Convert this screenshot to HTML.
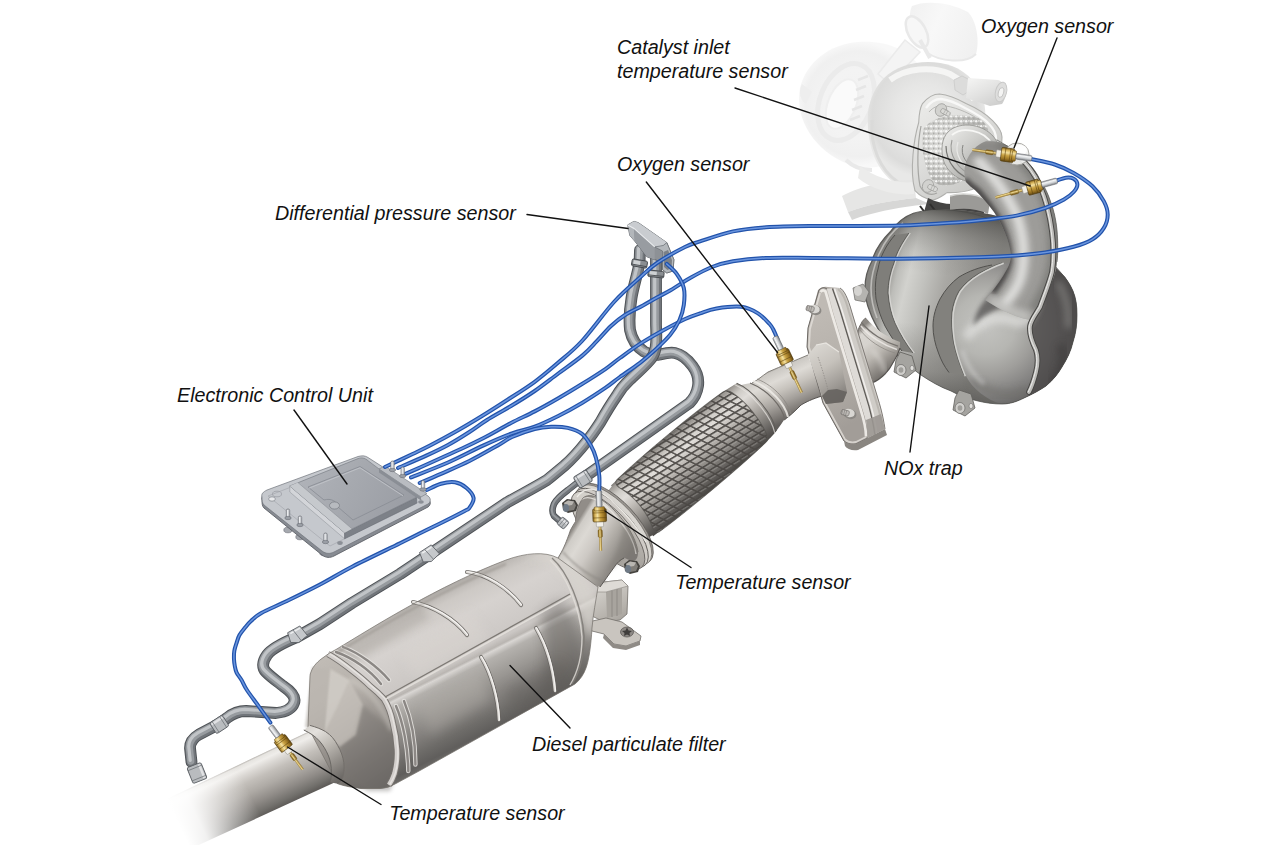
<!DOCTYPE html>
<html><head><meta charset="utf-8"><title>Exhaust aftertreatment system</title>
<style>
html,body{margin:0;padding:0;background:#fff;}
body{width:1280px;height:845px;overflow:hidden;font-family:"Liberation Sans",sans-serif;}
svg{display:block}
.lbl{font-family:"Liberation Sans",sans-serif;font-style:italic;font-size:19.7px;fill:#111;}
.ld{stroke:#111;stroke-width:1.4;fill:none;stroke-linecap:round}
.wo{fill:none;stroke:#2253ab;stroke-width:4;stroke-linecap:round;stroke-linejoin:round}
.wi{fill:none;stroke:#6a95de;stroke-width:1.5;stroke-linecap:round;stroke-linejoin:round}
.po{fill:none;stroke:#5b5f64;stroke-linecap:round;stroke-linejoin:round}
.pm{fill:none;stroke:#a4a8ac;stroke-linecap:round;stroke-linejoin:round}
.ph{fill:none;stroke:#d9dbdd;stroke-linecap:round;stroke-linejoin:round}
</style></head><body>
<svg width="1280" height="845" viewBox="0 0 1280 845">
<defs>
<filter id="b1" x="-20%" y="-20%" width="140%" height="140%"><feGaussianBlur stdDeviation="1"/></filter>
<filter id="b2" x="-20%" y="-20%" width="140%" height="140%"><feGaussianBlur stdDeviation="2"/></filter>
<filter id="b3" x="-30%" y="-30%" width="160%" height="160%"><feGaussianBlur stdDeviation="3.5"/></filter>
<filter id="b6" x="-30%" y="-30%" width="160%" height="160%"><feGaussianBlur stdDeviation="6"/></filter>
<filter id="b10" x="-40%" y="-40%" width="180%" height="180%"><feGaussianBlur stdDeviation="10"/></filter>
<radialGradient id="gT1" gradientUnits="userSpaceOnUse" cx="858" cy="104" r="62" ><stop offset="0" stop-color="#f1f1f1"/><stop offset="0.55" stop-color="#f3f3f3"/><stop offset="0.85" stop-color="#f0f0f0"/><stop offset="1" stop-color="#f8f8f8"/></radialGradient>
<linearGradient id="gT2" gradientUnits="userSpaceOnUse" x1="905" y1="20" x2="975" y2="50"><stop offset="0" stop-color="#f1f1f1"/><stop offset="0.4" stop-color="#f8f8f8"/><stop offset="1" stop-color="#f0f0f0"/></linearGradient>
<radialGradient id="gT3" gradientUnits="userSpaceOnUse" cx="925" cy="115" r="62" ><stop offset="0" stop-color="#efefee"/><stop offset="0.5" stop-color="#e6e6e5"/><stop offset="0.85" stop-color="#dcdcdb"/><stop offset="1" stop-color="#e8e8e7"/></radialGradient>
<linearGradient id="gT4" gradientUnits="userSpaceOnUse" x1="975" y1="78" x2="990" y2="108"><stop offset="0" stop-color="#f2f2f1"/><stop offset="0.5" stop-color="#e2e2e1"/><stop offset="1" stop-color="#cfcfce"/></linearGradient>
<linearGradient id="gTF" gradientUnits="userSpaceOnUse" x1="915" y1="100" x2="1000" y2="200"><stop offset="0" stop-color="#ececea"/><stop offset="0.4" stop-color="#dededc"/><stop offset="0.8" stop-color="#cacac7"/><stop offset="1" stop-color="#b6b6b3"/></linearGradient>
<radialGradient id="gBel" gradientUnits="userSpaceOnUse" cx="945" cy="145" r="36" ><stop offset="0" stop-color="#e2e2e0"/><stop offset="0.6" stop-color="#cfcfcc"/><stop offset="1" stop-color="#b4b4b1"/></radialGradient>
<pattern id="speck" width="5" height="5" patternUnits="userSpaceOnUse"><circle cx="1.2" cy="1.2" r="1.2" fill="#fbfbfa"/><circle cx="3.7" cy="3.5" r="0.9" fill="#a8a8a5"/><circle cx="3.9" cy="0.9" r="0.8" fill="#f0f0ee"/><circle cx="1" cy="3.8" r="0.6" fill="#bcbcb9"/></pattern>
<linearGradient id="gVb" gradientUnits="userSpaceOnUse" x1="945" y1="125" x2="995" y2="180"><stop offset="0" stop-color="#f0f0ee"/><stop offset="0.45" stop-color="#cbcbc8"/><stop offset="1" stop-color="#939390"/></linearGradient>
<linearGradient id="gCan" gradientUnits="userSpaceOnUse" x1="880" y1="268" x2="990" y2="296"><stop offset="0" stop-color="#858480"/><stop offset="0.08" stop-color="#969591"/><stop offset="0.16" stop-color="#bdbdb9"/><stop offset="0.26" stop-color="#d2d2ce"/><stop offset="0.4" stop-color="#c2c2be"/><stop offset="0.58" stop-color="#aaa9a5"/><stop offset="0.8" stop-color="#989793"/><stop offset="1" stop-color="#8a8985"/></linearGradient>
<linearGradient id="gCanV" gradientUnits="userSpaceOnUse" x1="950" y1="205" x2="925" y2="400"><stop offset="0" stop-color="#33322f" stop-opacity="0.85"/><stop offset="0.07" stop-color="#4a4946" stop-opacity="0.6"/><stop offset="0.16" stop-color="#5f5e5b" stop-opacity="0.35"/><stop offset="0.26" stop-color="#6b6a67" stop-opacity="0.12"/><stop offset="0.36" stop-color="#6b6a67" stop-opacity="0"/><stop offset="0.62" stop-color="#5c5b58" stop-opacity="0.0"/><stop offset="0.85" stop-color="#5c5b58" stop-opacity="0.3"/><stop offset="1" stop-color="#3f3e3c" stop-opacity="0.6"/></linearGradient>
<radialGradient id="gDome" gradientUnits="userSpaceOnUse" cx="985" cy="325" r="100" ><stop offset="0" stop-color="#c4c4c1"/><stop offset="0.3" stop-color="#b6b6b2"/><stop offset="0.5" stop-color="#9f9e9b"/><stop offset="0.7" stop-color="#828180"/><stop offset="0.88" stop-color="#5f5e5d"/><stop offset="1" stop-color="#484746"/></radialGradient>
<linearGradient id="gElbow" gradientUnits="userSpaceOnUse" x1="858" y1="330" x2="892" y2="374"><stop offset="0" stop-color="#8c8883"/><stop offset="0.1" stop-color="#d9d6d1"/><stop offset="0.3" stop-color="#d6d3ce"/><stop offset="0.55" stop-color="#bab6b0"/><stop offset="0.78" stop-color="#8e8a85"/><stop offset="1" stop-color="#686561"/></linearGradient>
<linearGradient id="gNarrow" gradientUnits="userSpaceOnUse" x1="776" y1="366" x2="799" y2="416"><stop offset="0" stop-color="#8f8b86"/><stop offset="0.07" stop-color="#cbc8c3"/><stop offset="0.25" stop-color="#dedbd6"/><stop offset="0.45" stop-color="#c6c2bc"/><stop offset="0.65" stop-color="#a5a19c"/><stop offset="0.85" stop-color="#7f7b77"/><stop offset="1" stop-color="#625f5c"/></linearGradient>
<linearGradient id="gFlex" gradientUnits="userSpaceOnUse" x1="0" y1="-34" x2="0" y2="34"><stop offset="0" stop-color="#6f6c68"/><stop offset="0.05" stop-color="#9f9b96"/><stop offset="0.16" stop-color="#cfccc7"/><stop offset="0.28" stop-color="#e0ddd9"/><stop offset="0.42" stop-color="#c4c0bb"/><stop offset="0.58" stop-color="#a19d98"/><stop offset="0.75" stop-color="#7c7975"/><stop offset="0.9" stop-color="#5c5956"/><stop offset="1" stop-color="#494744"/></linearGradient>
<pattern id="mesh" width="9.4" height="6" patternUnits="userSpaceOnUse" patternTransform="rotate(8.3) skewX(32)"><path d="M0,0.9 H9.4 M0.9,0 V6" stroke="#4b4845" stroke-width="1.8" fill="none" opacity="0.92"/><path d="M2.2,2.2 H9.4" stroke="#f4f2ef" stroke-width="0.7" fill="none" opacity="0.45"/></pattern>
<linearGradient id="gFlFace" gradientUnits="userSpaceOnUse" x1="806" y1="320" x2="860" y2="420"><stop offset="0" stop-color="#bfbab4"/><stop offset="0.5" stop-color="#b5b0aa"/><stop offset="1" stop-color="#a29d98"/></linearGradient>
<linearGradient id="gFlEdge" gradientUnits="userSpaceOnUse" x1="838" y1="330" x2="872" y2="318"><stop offset="0" stop-color="#ebe8e4"/><stop offset="0.3" stop-color="#d6d3ce"/><stop offset="0.42" stop-color="#c9c5c0"/><stop offset="0.5" stop-color="#64615d"/><stop offset="0.58" stop-color="#dedbd6"/><stop offset="0.8" stop-color="#cbc7c2"/><stop offset="1" stop-color="#a9a5a0"/></linearGradient>
<linearGradient id="gBoss" gradientUnits="userSpaceOnUse" x1="810" y1="345" x2="845" y2="400"><stop offset="0" stop-color="#dcd9d4"/><stop offset="0.4" stop-color="#c6c2bc"/><stop offset="0.75" stop-color="#9c9893"/><stop offset="1" stop-color="#7a7672"/></linearGradient>
<linearGradient id="gBrk" gradientUnits="userSpaceOnUse" x1="598" y1="585" x2="630" y2="640"><stop offset="0" stop-color="#d6d3ce"/><stop offset="0.5" stop-color="#b5b1ab"/><stop offset="1" stop-color="#8c8883"/></linearGradient>
<linearGradient id="gPlate" gradientUnits="userSpaceOnUse" x1="575" y1="495" x2="650" y2="565"><stop offset="0" stop-color="#dad7d2"/><stop offset="0.45" stop-color="#c2beb8"/><stop offset="1" stop-color="#9a9691"/></linearGradient>
<linearGradient id="gNeck" gradientUnits="userSpaceOnUse" x1="566" y1="540" x2="618" y2="572"><stop offset="0" stop-color="#918d88"/><stop offset="0.07" stop-color="#cfccc7"/><stop offset="0.22" stop-color="#dcd9d4"/><stop offset="0.42" stop-color="#cdc9c4"/><stop offset="0.62" stop-color="#b1ada7"/><stop offset="0.82" stop-color="#95918c"/><stop offset="1" stop-color="#7c7874"/></linearGradient>
<linearGradient id="gTail" gradientUnits="userSpaceOnUse" x1="236" y1="766" x2="261" y2="818.5"><stop offset="0" stop-color="#b5b1ac"/><stop offset="0.03" stop-color="#e6e4e0"/><stop offset="0.1" stop-color="#efedea"/><stop offset="0.2" stop-color="#dbd8d4"/><stop offset="0.34" stop-color="#c3bfba"/><stop offset="0.52" stop-color="#aeaaa5"/><stop offset="0.72" stop-color="#8f8b87"/><stop offset="0.88" stop-color="#72706c"/><stop offset="0.97" stop-color="#5f5c59"/><stop offset="1" stop-color="#6a6764"/></linearGradient>
<linearGradient id="gTailFade" gradientUnits="userSpaceOnUse" x1="168" y1="802" x2="238" y2="768"><stop offset="0" stop-color="#ffffff" stop-opacity="1"/><stop offset="0.25" stop-color="#ffffff" stop-opacity="0.9"/><stop offset="0.65" stop-color="#ffffff" stop-opacity="0.4"/><stop offset="1" stop-color="#ffffff" stop-opacity="0"/></linearGradient>
<linearGradient id="gDpf" gradientUnits="userSpaceOnUse" x1="420" y1="598" x2="491" y2="738"><stop offset="0" stop-color="#a39f9b"/><stop offset="0.03" stop-color="#bab6b2"/><stop offset="0.1" stop-color="#cdc9c5"/><stop offset="0.22" stop-color="#d6d2cf"/><stop offset="0.36" stop-color="#d0ccc9"/><stop offset="0.46" stop-color="#cbc7c4"/><stop offset="0.495" stop-color="#b9b5b1"/><stop offset="0.51" stop-color="#d9d6d3"/><stop offset="0.55" stop-color="#b4b1ad"/><stop offset="0.66" stop-color="#9d9a96"/><stop offset="0.78" stop-color="#84817e"/><stop offset="0.88" stop-color="#6d6b68"/><stop offset="0.95" stop-color="#605e5c"/><stop offset="1" stop-color="#72706d"/></linearGradient>
<linearGradient id="gCone" gradientUnits="userSpaceOnUse" x1="312" y1="668" x2="392" y2="786"><stop offset="0" stop-color="#c0bbb5"/><stop offset="0.25" stop-color="#b8b3ad"/><stop offset="0.5" stop-color="#9d9893"/><stop offset="0.75" stop-color="#7a7672"/><stop offset="1" stop-color="#605d5a"/></linearGradient>
<linearGradient id="gRing" gradientUnits="userSpaceOnUse" x1="304" y1="728" x2="342" y2="782"><stop offset="0" stop-color="#d6d3ce"/><stop offset="0.15" stop-color="#e4e1dd"/><stop offset="0.4" stop-color="#c0bcb6"/><stop offset="0.7" stop-color="#918d88"/><stop offset="1" stop-color="#64615e"/></linearGradient>
<linearGradient id="gEcuTop" gradientUnits="userSpaceOnUse" x1="300" y1="470" x2="400" y2="525"><stop offset="0" stop-color="#b0b3b9"/><stop offset="0.5" stop-color="#a5a8ae"/><stop offset="1" stop-color="#9a9da4"/></linearGradient>
<path id="wB" d="M1056.6,180.6 C1058.2,180.1 1063.2,178.0 1066.0,177.7 C1068.8,177.4 1071.7,177.6 1073.6,178.7 C1075.5,179.8 1077.4,182.2 1077.4,184.4 C1077.4,186.6 1075.8,189.5 1073.6,192.0 C1071.4,194.5 1068.7,196.8 1064.0,199.5 C1059.3,202.2 1053.1,205.3 1045.2,208.0 C1037.3,210.7 1026.3,213.7 1016.8,215.6 C1007.3,217.5 997.9,218.3 988.4,219.4 C978.9,220.5 974.7,221.2 960.0,222.2 C945.3,223.2 924.0,225.0 900.0,225.6 C876.0,226.2 838.3,225.7 816.0,226.0 C793.7,226.3 779.8,226.4 766.0,227.3 C752.2,228.2 744.0,229.1 733.0,231.4 C722.0,233.8 708.0,238.8 700.0,241.4 C692.0,244.0 692.2,243.4 685.0,247.0 C677.8,250.6 664.5,257.9 657.0,263.0 C649.5,268.1 647.2,271.0 640.0,277.5 C632.8,284.0 623.7,291.4 614.0,302.0 C604.3,312.6 591.3,330.9 582.0,341.0 C572.7,351.1 565.9,356.0 558.0,362.8 C550.1,369.6 543.0,375.7 534.7,381.8 C526.4,387.9 516.8,393.8 508.0,399.5 C499.2,405.2 490.8,410.6 482.0,416.0 C473.2,421.4 463.7,427.1 455.0,432.0 C446.3,436.9 437.1,441.8 430.0,445.5 C422.9,449.2 420.1,450.4 412.6,454.0 C405.1,457.6 389.6,464.8 385.0,467.0"/>
<path id="wA" d="M1030.0,158.8 C1034.1,159.8 1047.4,162.1 1054.7,164.5 C1062.0,166.9 1067.3,169.4 1073.6,173.0 C1079.9,176.6 1087.5,181.6 1092.5,186.3 C1097.5,191.0 1101.4,196.7 1103.9,201.4 C1106.4,206.1 1107.7,210.3 1107.7,214.7 C1107.7,219.1 1106.4,223.8 1103.9,227.9 C1101.4,232.0 1097.5,236.2 1092.5,239.3 C1087.5,242.5 1081.5,244.6 1073.6,246.8 C1065.7,249.0 1054.7,251.1 1045.2,252.5 C1035.7,253.9 1027.8,254.6 1016.8,255.4 C1005.8,256.2 998.4,256.7 978.9,257.3 C959.4,257.9 927.1,258.7 900.0,258.8 C872.9,258.9 838.3,258.1 816.0,258.0 C793.7,257.9 779.8,257.4 766.0,258.0 C752.2,258.6 742.0,259.8 733.0,261.3 C724.0,262.8 719.0,264.3 712.0,267.0 C705.0,269.7 697.8,273.7 691.0,277.5 C684.2,281.3 676.7,286.7 671.0,290.0 C665.3,293.3 661.7,294.9 657.0,297.5 C652.3,300.1 648.3,302.6 643.0,305.5 C637.7,308.4 630.3,311.6 625.0,315.0 C619.7,318.4 615.7,321.6 611.0,326.0 C606.3,330.4 601.5,336.3 596.8,341.2 C592.1,346.1 589.0,350.0 582.6,355.4 C576.2,360.8 566.3,367.6 558.3,373.5 C550.3,379.4 542.6,385.6 534.7,391.0 C526.8,396.4 519.0,401.2 511.0,406.0 C503.1,410.8 493.9,415.7 487.0,420.0 C480.1,424.3 475.9,427.8 469.4,432.0 C462.9,436.2 455.1,441.1 448.0,445.0 C440.9,448.9 435.1,451.6 426.8,455.4 C418.5,459.2 402.8,465.9 398.0,468.0"/>
<path id="wC" d="M777.5,339.0 C776.9,337.7 775.3,333.5 774.0,331.0 C772.7,328.5 772.3,326.9 769.6,324.0 C766.9,321.1 762.7,316.3 758.0,313.4 C753.3,310.5 748.3,307.6 741.4,306.8 C734.5,306.0 723.5,307.4 716.6,308.5 C709.7,309.6 705.2,311.6 700.0,313.4 C694.8,315.1 691.5,316.1 685.2,319.0 C678.9,321.9 669.5,326.9 662.0,331.0 C654.5,335.1 647.0,339.4 640.0,343.9 C633.0,348.4 625.6,353.9 619.9,358.0 C614.2,362.1 612.0,364.5 605.7,368.8 C599.4,373.1 589.9,379.1 582.0,384.0 C574.1,388.9 566.2,393.7 558.3,398.3 C550.4,402.9 542.6,407.3 534.7,411.4 C526.8,415.5 519.5,418.6 511.0,423.0 C502.5,427.4 491.8,433.8 483.6,438.0 C475.4,442.2 469.1,445.2 462.0,448.5 C454.9,451.8 448.0,454.8 441.0,458.0 C434.0,461.2 425.9,464.9 420.0,467.5 C414.1,470.1 407.9,472.8 405.5,473.8"/>
<path id="wD" d="M666.8,263.9 C668.4,265.6 673.9,269.9 676.7,273.9 C679.5,277.9 682.6,282.8 683.8,288.0 C685.0,293.2 684.5,299.7 683.8,305.0 C683.1,310.3 681.8,315.0 679.5,320.0 C677.2,325.0 674.1,330.0 670.0,335.0 C665.9,340.0 660.0,345.4 655.0,350.0 C650.0,354.6 645.9,358.3 640.0,362.8 C634.1,367.3 625.6,372.9 619.9,377.0 C614.2,381.1 612.0,383.4 605.7,387.7 C599.4,392.0 589.9,398.3 582.0,403.0 C574.1,407.7 566.2,412.1 558.3,416.0 C550.4,419.9 542.4,423.8 534.7,426.7 C527.0,429.6 520.5,430.3 512.0,433.4 C503.5,436.5 494.3,440.5 483.6,445.4 C472.9,450.2 460.1,457.2 448.0,462.5 C435.9,467.8 417.2,474.9 411.0,477.4"/>
<path id="wE" d="M599.2,492.0 C599.2,489.3 599.8,481.7 599.3,476.0 C598.8,470.3 597.4,463.1 596.0,458.0 C594.6,452.9 593.3,449.7 591.0,445.7 C588.7,441.7 585.9,436.8 582.0,433.8 C578.1,430.8 572.9,429.1 567.8,427.9 C562.7,426.7 556.7,426.5 551.2,426.7 C545.7,426.9 541.2,427.3 534.7,429.0 C528.2,430.7 518.1,434.3 512.0,437.0 C505.9,439.7 504.9,441.4 497.8,445.4 C490.7,449.4 478.9,456.3 469.4,461.0 C459.9,465.7 449.3,470.1 441.0,473.8 C432.7,477.5 423.2,481.5 419.7,483.0"/>
<path id="wF" d="M426.8,490.0 C429.2,489.0 436.3,485.1 441.0,483.8 C445.7,482.5 450.8,481.6 455.0,482.3 C459.2,483.0 463.4,485.4 466.5,488.0 C469.6,490.6 473.1,494.7 473.6,498.0 C474.1,501.3 470.9,505.7 469.4,507.9 C467.9,510.1 469.3,508.5 464.6,511.0 C459.9,513.5 448.1,519.5 441.0,523.0 C433.9,526.5 428.8,528.9 422.0,532.3 C415.2,535.7 411.6,537.6 400.0,543.3 C388.4,549.0 366.0,559.6 352.6,566.5 C339.2,573.4 330.6,579.0 319.5,584.8 C308.4,590.6 296.0,596.6 286.3,601.3 C276.6,606.0 267.3,609.7 261.4,613.0 C255.5,616.3 253.8,618.5 251.0,621.0 C248.2,623.5 246.8,625.5 244.9,627.8 C243.0,630.1 240.9,632.5 239.5,635.0 C238.1,637.5 237.5,640.1 236.6,642.8 C235.7,645.5 234.7,648.2 234.3,651.0 C233.9,653.8 233.9,656.8 234.0,659.3 C234.1,661.8 234.4,663.8 234.8,666.0 C235.2,668.2 235.5,670.3 236.6,672.6 C237.7,674.9 239.8,677.1 241.5,680.0 C243.2,682.9 244.0,685.6 246.9,690.0 C249.8,694.4 254.8,700.9 258.7,706.3 C262.6,711.7 268.4,719.9 270.4,722.6"/>
<linearGradient id="gBrass" gradientUnits="userSpaceOnUse" x1="0" y1="-7" x2="0" y2="7"><stop offset="0" stop-color="#7a5a1a"/><stop offset="0.18" stop-color="#d9b65c"/><stop offset="0.35" stop-color="#f3e0a0"/><stop offset="0.55" stop-color="#c9a243"/><stop offset="0.8" stop-color="#9a7424"/><stop offset="1" stop-color="#5e4410"/></linearGradient>
<linearGradient id="gSleeve" gradientUnits="userSpaceOnUse" x1="0" y1="-3" x2="0" y2="3"><stop offset="0" stop-color="#8a8d91"/><stop offset="0.3" stop-color="#f4f5f6"/><stop offset="0.6" stop-color="#d0d3d6"/><stop offset="1" stop-color="#74777b"/></linearGradient>
<linearGradient id="gProbe" gradientUnits="userSpaceOnUse" x1="0" y1="-1.6" x2="0" y2="1.6"><stop offset="0" stop-color="#8a6a20"/><stop offset="0.4" stop-color="#ecd58c"/><stop offset="1" stop-color="#7a5a18"/></linearGradient>
</defs>
<rect width="1280" height="845" fill="#ffffff"/>
<g id="turbo">
<path d="M800,88 C806,62 830,44 858,42 C886,40 910,50 922,70 C932,90 930,126 916,146 C900,166 872,172 848,164 C816,152 794,120 800,88 Z" fill="url(#gT1)"/>
<ellipse cx="846" cy="102" rx="26" ry="40" transform="rotate(22 846 102)" fill="none" stroke="#ebebeb" stroke-width="5"/>
<ellipse cx="842" cy="104" rx="14" ry="26" transform="rotate(22 842 104)" fill="#fafafa" stroke="#efefef" stroke-width="2"/>
<path d="M802,84 C798,92 800,100 806,104 L812,92 Z" fill="#eeeeee"/>
<path d="M846,160 C852,166 862,170 872,170" fill="none" stroke="#e9e9e9" stroke-width="4"/>
<path d="M858,80 l10,-4" stroke="#e6e6e6" stroke-width="2.5"/>
<path d="M856,90 l10,-4" stroke="#e6e6e6" stroke-width="2.5"/>
<path d="M854,100 l10,-4" stroke="#e6e6e6" stroke-width="2.5"/>
<path d="M852,110 l10,-4" stroke="#e6e6e6" stroke-width="2.5"/>
<path d="M850,120 l10,-4" stroke="#e6e6e6" stroke-width="2.5"/>
<path d="M912,6 C925,0 950,2 968,12 C976,20 980,40 976,54 C966,64 940,62 926,52 C914,42 906,18 912,6 Z" fill="url(#gT2)"/>
<ellipse cx="917" cy="32" rx="9" ry="17" transform="rotate(-28 917 32)" fill="#f7f7f7" stroke="#e9e9e9" stroke-width="2.5"/>
<path d="M926,52 C940,62 966,64 976,54" fill="none" stroke="#e8e8e8" stroke-width="2"/>
<path d="M905,40 L920,52 L890,84 L878,74 Z" fill="#f4f4f4" stroke="#ebebeb" stroke-width="1.5"/>
<path d="M920,40 L930,58" stroke="#e9e9e9" stroke-width="4"/>
<path d="M884,78 C900,62 930,58 952,66 C968,72 980,86 984,102 C988,122 984,150 970,170 C954,190 920,196 896,184 C874,170 866,140 868,112 C870,98 876,86 884,78 Z" fill="url(#gT3)"/>
<path d="M890,80 C906,68 932,66 950,74 C962,80 970,90 974,100" fill="none" stroke="#f7f7f6" stroke-width="6" opacity="0.9"/>
<path d="M872,120 C870,146 880,170 898,182" fill="none" stroke="#d9d9d8" stroke-width="3" opacity="0.9"/>
<path d="M954,80 L962,76 L970,80 L971,90 L963,95 L955,90 Z" fill="#dcdcdb" stroke="#cfcfce" stroke-width="1"/>
<path d="M968,78 L998,80 C1006,82 1008,96 1002,104 L990,106 L966,98 Z" fill="url(#gT4)"/>
<ellipse cx="1001" cy="92" rx="5.5" ry="10" transform="rotate(14 1001 92)" fill="#dededd" stroke="#c9c9c8" stroke-width="1"/>
<ellipse cx="1001" cy="92.5" rx="2.6" ry="5" transform="rotate(14 1001 92.5)" fill="#f4f4f3" stroke="#bdbdbc" stroke-width="0.8"/>
<path d="M842,196 C860,186 890,180 914,180 L916,198 C896,200 868,204 848,212 Z" fill="#e6e6e5"/>
<path d="M860,166 C876,178 896,184 914,182 L914,194 C896,196 872,190 858,178 Z" fill="#ececeb"/>
<path d="M848,212 C868,204 896,200 916,198 L930,204 C906,206 872,212 852,220 Z" fill="#d7d7d6"/>
<path d="M922.5,103.6 C928,97 934,94 939.5,94 C950,95 958,99 966,103.6 C976,108 986,114 992.6,120.6 C998,126 1002,131 1002,137 C1002,150 996,166 986,180 C980,188 968,193 947,192.6 C942,196 937,200 932,200 C925,199 919,195 915,190.7 C912,180 912,166 913,154.7 C914,142 916,132 918.7,122.5 C919,115 920,108 922.5,103.6 Z" fill="url(#gTF)" stroke="#b0b0ad" stroke-width="1.1"/>
<path d="M926,108 C931,101 936,99 941,99 C951,100 958,104 965,108 C975,113 984,118 989,124 C994,129 996,134 996,139" fill="none" stroke="#f8f8f7" stroke-width="2.4"/>
<path d="M921,126 C917,146 917,170 920,186 C924,194 931,196 937,193" fill="none" stroke="#a5a5a2" stroke-width="1.2"/>
<path d="M929,112 C934,106 940,105 946,106 C958,108 972,114 982,122" fill="none" stroke="#b9b9b6" stroke-width="1"/>
<path d="M924,128 C934,116 956,112 978,118 C986,122 990,130 988,138 L966,178 C956,186 942,188 934,182 C924,170 920,144 924,128 Z" fill="url(#gBel)"/>
<path d="M924,128 C934,116 956,112 978,118 C986,122 990,130 988,138 L966,178 C956,186 942,188 934,182 C924,170 920,144 924,128 Z" fill="url(#speck)" opacity="0.9"/>
<path d="M948,132 C960,120 986,124 996,140 C1001,152 996,170 984,180 C970,186 950,178 944,162 C940,150 942,138 948,132 Z" fill="url(#gVb)" stroke="#8f8f8c" stroke-width="0.8"/>
<path d="M952,135 C962,126 984,130 992,144" fill="none" stroke="#f7f7f5" stroke-width="1.8"/>
<path d="M946,146 C946,162 958,178 976,180" fill="none" stroke="#767673" stroke-width="1.2"/>
<path d="M952,140 C948,154 958,172 976,176" fill="none" stroke="#9b9b98" stroke-width="1.1"/>
<path d="M958,142 C954,154 962,168 976,172" fill="none" stroke="#e9e9e7" stroke-width="1.2"/>
<path d="M963,145 C960,155 966,165 977,168" fill="none" stroke="#858582" stroke-width="1"/>
<g transform="translate(941,110) rotate(28)"><ellipse cx="0" cy="0" rx="5.5" ry="6.5" fill="#d2d2cf" stroke="#a2a29f" stroke-width="0.8"/><rect x="0" y="-2.4" width="10" height="4.8" rx="2" fill="#d9d9d6" stroke="#9a9a97" stroke-width="0.7"/><path d="M4,-2.4 v4.8 M6.5,-2.4 v4.8" stroke="#a5a5a2" stroke-width="0.6"/></g>
<g transform="translate(928,186) rotate(24)"><ellipse cx="0" cy="0" rx="5.5" ry="6.5" fill="#d2d2cf" stroke="#a2a29f" stroke-width="0.8"/><rect x="0" y="-2.4" width="10" height="4.8" rx="2" fill="#d9d9d6" stroke="#9a9a97" stroke-width="0.7"/><path d="M4,-2.4 v4.8 M6.5,-2.4 v4.8" stroke="#a5a5a2" stroke-width="0.6"/></g>
<path d="M928,198 C944,206 962,206 976,198 L984,206 L984,216 C964,222 942,222 924,212 Z" fill="#454443"/>
<path d="M950,196 C962,192 980,194 990,202 L988,214 C976,208 962,208 950,210 Z" fill="#9b9a97"/>
<path d="M950,196 C962,192 980,194 990,202" fill="none" stroke="#d4d4d1" stroke-width="1.5"/>
<path d="M920,206 L932,222 M930,204 L944,222" stroke="#2f2e2d" stroke-width="2"/>
</g>
<g id="nox">
<clipPath id="cpCan"><path d="M914,213 C903,217 896,224 891,231 C882,240 875,250 872,261 C867,270 865,279 865,288 C865,297 867,305 870,312 C873,321 878,329 883,337 C888,345 893,351 898,356 C905,363 913,369 921,375 C930,381 940,387 951,391 C960,396 969,399 978,401 C986,403 994,404 1002,404 C1011,404 1018,401 1024,398 C1033,394 1040,390 1046,386 C1053,380 1058,374 1062,367 C1067,359 1071,351 1073,342 C1076,333 1077,324 1077,315 C1077,306 1076,298 1073,291 C1070,284 1066,278 1062,274 L1054,266 L1040,232 C1010,214 950,204 914,213 Z"/></clipPath>
<path d="M914,213 C903,217 896,224 891,231 C882,240 875,250 872,261 C867,270 865,279 865,288 C865,297 867,305 870,312 C873,321 878,329 883,337 C888,345 893,351 898,356 C905,363 913,369 921,375 C930,381 940,387 951,391 C960,396 969,399 978,401 C986,403 994,404 1002,404 C1011,404 1018,401 1024,398 C1033,394 1040,390 1046,386 C1053,380 1058,374 1062,367 C1067,359 1071,351 1073,342 C1076,333 1077,324 1077,315 C1077,306 1076,298 1073,291 C1070,284 1066,278 1062,274 L1054,266 L1040,232 C1010,214 950,204 914,213 Z" fill="url(#gCan)"/>
<path d="M914,213 C903,217 896,224 891,231 C882,240 875,250 872,261 C867,270 865,279 865,288 C865,297 867,305 870,312 C873,321 878,329 883,337 C888,345 893,351 898,356 C905,363 913,369 921,375 C930,381 940,387 951,391 C960,396 969,399 978,401 C986,403 994,404 1002,404 C1011,404 1018,401 1024,398 C1033,394 1040,390 1046,386 C1053,380 1058,374 1062,367 C1067,359 1071,351 1073,342 C1076,333 1077,324 1077,315 C1077,306 1076,298 1073,291 C1070,284 1066,278 1062,274 L1054,266 L1040,232 C1010,214 950,204 914,213 Z" fill="url(#gCanV)"/>
<path d="M895,235 C886,245 880,257 878,269 C875,279 875,289 876,299 C878,309 881,318 885,326 C890,335 895,343 902,351 L913,353 C906,344 900,334 895,323 C891,314 889,304 888,293 C888,283 890,273 894,263 C896,253 902,243 909,233 Z" fill="#7f7e7a"/>
<path d="M895,235 C886,245 880,257 878,269 C875,279 875,289 876,299 C878,309 881,318 885,326 C890,335 895,343 902,351" fill="none" stroke="#51504d" stroke-width="1"/>
<path d="M909,233 C902,243 896,253 894,263 C890,273 888,283 888,293 C889,304 891,314 895,323 C900,334 906,344 913,353" fill="none" stroke="#51504d" stroke-width="0.8"/>
<path d="M909,233 C902,243 896,253 894,263 C890,273 888,283 888,293 C889,304 891,314 895,323 C900,334 906,344 913,353" fill="none" stroke="#dddcd9" stroke-width="1.2" opacity="0.8" transform="translate(1.3,0)"/>
<path d="M914,213 C903,217 896,224 891,231 C882,240 875,250 872,261 C867,270 865,279 865,288 C865,297 867,305 870,312 C873,321 878,329 883,337 C888,345 893,351 898,356" fill="none" stroke="#5c5b58" stroke-width="1.3"/>
<path d="M903,223 C892,231 884,243 879,254 C874,266 871,278 871,288 C871,298 873,308 877,318" fill="none" stroke="#cfcecb" stroke-width="1.6" opacity="0.75"/>
<path d="M1002,263 C993,266 985,270 978,274 C970,279 964,284 959,291 C955,298 953,305 952,312 C951,322 952,333 953.5,342 C956,354 960,365 964,375 L949,372.5 C944,366 941,360 938.5,353 C935,344 933,335 933,326 C933,316 936,307 940,299 C945,290 951,283 959,277 C969,271 980,267 992,265 Z" fill="#82817d"/>
<path d="M992,265 C980,267 969,271 959,277 C951,283 945,290 940,299 C936,307 933,316 933,326 C933,335 935,344 938.5,353 C941,360 944,366 949,372.5" fill="none" stroke="#51504d" stroke-width="1"/>
<path d="M1002,263 C993,266 985,270 978,274 C970,279 964,284 959,291 C955,298 953,305 952,312 C951,322 952,333 953.5,342 C956,354 960,365 964,375" fill="none" stroke="#51504d" stroke-width="0.8"/>
<path d="M1004,264 C995,267 987,271 980,275 C972,280 966,285 961,292 C957,299 955,306 954,313 C953,323 954,334 955.5,343 C958,355 962,366 966,376" fill="none" stroke="#d9d9d6" stroke-width="3" opacity="0.9"/>
<path d="M1004,264 C995,267 987,271 980,275 C972,280 966,285 961,292 C957,299 955,306 954,313 C953,323 954,334 955.5,343 C958,355 962,366 966,376 C972,388 986,400 1002,404 C1011,404 1018,401 1024,398 C1033,394 1040,390 1046,386 C1053,380 1058,374 1062,367 C1067,359 1071,351 1073,342 C1076,333 1077,324 1077,315 C1077,306 1076,298 1073,291 C1070,284 1066,278 1062,274 L1054,266 C1040,258 1020,258 1004,264 Z" fill="url(#gDome)"/>
<g clip-path="url(#cpCan)">
<path d="M1053,262 C1052,276 1046,292 1040,307 C1034,316 1030,322 1030,328 C1030,336 1034,344 1037,352 C1039,360 1038,370 1035,378 C1033,386 1031,392 1028,398 L1060,400 L1090,340 L1085,280 L1062,260 Z" fill="#4b4a48" opacity="0.8" filter="url(#b1)"/>
<path d="M1058,282 C1066,296 1070,312 1068,328" fill="none" stroke="#8d8c89" stroke-width="7" opacity="0.6" filter="url(#b3)"/>
<path d="M1060,345 C1066,355 1064,370 1052,384" fill="none" stroke="#3a3938" stroke-width="9" opacity="0.5" filter="url(#b3)"/>
<path d="M966,338 C976,322 994,314 1012,320 C1024,326 1030,318 1036,300" fill="none" stroke="#e6e6e4" stroke-width="10" opacity="0.65" filter="url(#b3)"/>
<path d="M1010,266 C1002,280 992,292 982,304 C977,311 974,318 973,326 C983,314 998,307 1014,306 C1012,294 1010,282 1010,266 Z" fill="#4b4a48" opacity="0.7" filter="url(#b2)"/>
<path d="M972,380 C988,394 1008,398 1026,390" fill="none" stroke="#6f6e6b" stroke-width="8" opacity="0.55" filter="url(#b3)"/>
<path d="M962,350 C966,364 974,376 984,384" fill="none" stroke="#dcdcda" stroke-width="4" opacity="0.5" filter="url(#b2)"/>
</g>
<clipPath id="cpElb"><path d="M966,182 C961,168 968,148 986,141 C994,140 1002,143 1008,146 C1014,150 1020,155 1025,160 C1032,166 1037,173 1040,180 C1045,187 1048,194 1050,200 C1054,210 1056,220 1057,230 C1058,242 1058,254 1057,262 C1056,272 1052,284 1046,294 C1040,304 1034,312 1030,320 C1018,318 1000,310 985,300 C992,292 998,284 1003,276 C1008,268 1011,262 1011,255 C1010,247 1008,240 1005,233 C1002,225 998,218 994,212 C988,204 981,196 975,190 C972,188 969,185 966,182 Z"/></clipPath>
<path d="M966,182 C961,168 968,148 986,141 C994,140 1002,143 1008,146 C1014,150 1020,155 1025,160 C1032,166 1037,173 1040,180 C1045,187 1048,194 1050,200 C1054,210 1056,220 1057,230 C1058,242 1058,254 1057,262 C1056,272 1052,284 1046,294 C1040,304 1034,312 1030,320 C1018,318 1000,310 985,300 C992,292 998,284 1003,276 C1008,268 1011,262 1011,255 C1010,247 1008,240 1005,233 C1002,225 998,218 994,212 C988,204 981,196 975,190 C972,188 969,185 966,182 Z" fill="#9d9c99"/>
<g clip-path="url(#cpElb)">
<path d="M1000,140 C1020,152 1036,170 1046,192 C1054,212 1058,238 1056,262 C1054,280 1046,296 1036,312" fill="none" stroke="#7c7b78" stroke-width="17" opacity="0.9" filter="url(#b3)"/>
<path d="M976,158 C994,176 1008,196 1017,216 C1023,234 1026,256 1021,276 C1018,288 1010,298 1002,306" fill="none" stroke="#e2e2e0" stroke-width="10.5" opacity="0.95" filter="url(#b3)"/>
<path d="M964,180 C968,185 973,188 978,192 C988,204 996,214 1001,226 C1006,238 1009,250 1008,262 C1006,272 1000,282 992,292" fill="none" stroke="#3f3e3c" stroke-width="8" opacity="0.85" filter="url(#b2)"/>
<path d="M975,150 C988,143 1006,147 1022,160" fill="none" stroke="#7b7a77" stroke-width="10" opacity="0.6" filter="url(#b3)"/>
<path d="M990,300 C1002,308 1016,314 1030,318" fill="none" stroke="#c9c9c6" stroke-width="10" opacity="0.8" filter="url(#b3)"/>
</g>
<path d="M1012,150 C1024,160 1034,172 1040,186 C1046,200 1050,216 1052,232 C1054,248 1054,260 1052,272 C1049,284 1044,296 1040,307 C1036,314 1031,320 1030,326 C1029,334 1032,342 1036,350 C1038,356 1038,364 1036,372 C1034,380 1032,386 1029,392" fill="none" stroke="#454442" stroke-width="5.6" stroke-linecap="round"/>
<path d="M1012,150 C1024,160 1034,172 1040,186 C1046,200 1050,216 1052,232 C1054,248 1054,260 1052,272 C1049,284 1044,296 1040,307 C1036,314 1031,320 1030,326 C1029,334 1032,342 1036,350 C1038,356 1038,364 1036,372 C1034,380 1032,386 1029,392" fill="none" stroke="#bdbcb9" stroke-width="3.7" stroke-linecap="round"/>
<path d="M1012,150 C1024,160 1034,172 1040,186 C1046,200 1050,216 1052,232 C1054,248 1054,260 1052,272 C1049,284 1044,296 1040,307 C1036,314 1031,320 1030,326 C1029,334 1032,342 1036,350 C1038,356 1038,364 1036,372 C1034,380 1032,386 1029,392" fill="none" stroke="#ebebe9" stroke-width="1" stroke-linecap="round" transform="translate(-0.7,-0.2)"/>
<path d="M898,356 C905,363 913,369 921,375 C930,381 940,387 951,391 C960,396 969,399 978,401 C986,403 994,404 1002,404 C1011,404 1018,401 1024,398 C1033,394 1040,390 1046,386 C1053,380 1058,374 1062,367 C1067,359 1071,351 1073,342 C1076,333 1077,324 1077,315 C1077,306 1076,298 1073,291 C1070,284 1066,278 1062,274 L1056,267" fill="none" stroke="#494846" stroke-width="1" opacity="0.7"/>
<path d="M914,213 C935,207 965,209 992,220" fill="none" stroke="#494846" stroke-width="1" opacity="0.7"/>
<path d="M997,140 C1008,146 1018,153 1025,160 C1032,166 1037,173 1040,180 C1045,187 1048,194 1050,200 C1054,210 1056,220 1057,230 C1058,242 1058,254 1057,262" fill="none" stroke="#555451" stroke-width="0.9" opacity="0.7"/>
<g transform="translate(904,366)">
<path d="M-4,-14 L8,-10 L12,4 L2,12 L-10,6 L-8,-6 Z" fill="#a5a4a0" stroke="#5f5e5b" stroke-width="0.8"/>
<ellipse cx="-3" cy="4" rx="5" ry="5.5" fill="#d0cfcc" stroke="#6a6966" stroke-width="0.7"/>
<ellipse cx="-3" cy="4" rx="2.4" ry="2.8" fill="#a09f9b"/>
<ellipse cx="8" cy="2" rx="2" ry="2.6" fill="#e2e1de" stroke="#6a6966" stroke-width="0.5"/>
</g>
<g transform="translate(963,404)">
<path d="M-4,-14 L8,-10 L12,4 L2,12 L-10,6 L-8,-6 Z" fill="#a5a4a0" stroke="#5f5e5b" stroke-width="0.8"/>
<ellipse cx="-3" cy="4" rx="5" ry="5.5" fill="#d0cfcc" stroke="#6a6966" stroke-width="0.7"/>
<ellipse cx="-3" cy="4" rx="2.4" ry="2.8" fill="#a09f9b"/>
<ellipse cx="8" cy="2" rx="2" ry="2.6" fill="#e2e1de" stroke="#6a6966" stroke-width="0.5"/>
</g>
<path d="M853,288 L863,284 L869,292 L865,302 L855,300 Z" fill="#b5b4b0" stroke="#6a6966" stroke-width="0.7"/>
<ellipse cx="858" cy="291" rx="4" ry="5" fill="#d5d4d1"/>
</g>
<g id="mid">
<path d="M842,326 L858,342 C857,334 858,328 861,324 C862,321 864,319 866,318 C875,329 888,338 900,342 L900,348 C898,354 896,358 894,361 C891,367 888,371 885,374 C881,378 877,381 872,383 L856,396 Z" fill="url(#gElbow)"/>
<path d="M858,342 C857,334 858,328 861,324 C862,321 864,319 866,318" fill="none" stroke="#6f6b67" stroke-width="1"/>
<path d="M900,348 C898,354 896,358 894,361 C891,367 888,371 885,374 C881,378 877,381 872,383" fill="none" stroke="#55524f" stroke-width="1.1"/>
<path d="M862,323 C870,333 884,342 898,346" fill="none" stroke="#77736f" stroke-width="1.3"/>
<path d="M861,326 C869,336 883,345 897,349.5" fill="none" stroke="#ece9e5" stroke-width="1.6" opacity="0.85"/>
<path d="M860,330 C868,340 881,349 895,353" fill="none" stroke="#8f8b86" stroke-width="1" opacity="0.8"/>
<path d="M872,350 C880,358 884,364 884,372" fill="none" stroke="#efece8" stroke-width="5" opacity="0.35" filter="url(#b2)"/>
<path d="M722,394 C732,388 742,384 752,383 C758,380 762,376 768,372 C782,366 796,360 808,355 L822,396 C812,399 806,402 801,405 C796,410 790,416 784,420 C780,426 776,432 770,438 Z" fill="url(#gNarrow)"/>
<path d="M752,383 C758,380 762,376 768,372 C782,366 796,360 808,355" fill="none" stroke="#7b7772" stroke-width="0.9"/>
<path d="M822,396 C812,399 806,402 801,405 C796,410 790,416 784,420" fill="none" stroke="#575451" stroke-width="1"/>
<path d="M750,383 C768,390 782,406 785,420" fill="none" stroke="#6f6b67" stroke-width="1.2"/>
<path d="M753,381 C771,388 785,404 788,417" fill="none" stroke="#efece8" stroke-width="2" opacity="0.85"/>
<path d="M757,379 C775,386 788,402 791,414" fill="none" stroke="#8b8782" stroke-width="1" opacity="0.8"/>
<g transform="translate(636.7,507) rotate(-39.8)">
<path d="M-15,-30 C-8,-18 -8,18 -15,30 L6,34 L6,-34 Z" fill="url(#gFlex)"/>
<path d="M-15,-30 C-8,-18 -8,18 -15,30" fill="none" stroke="#6a6763" stroke-width="0.9"/>
<path d="M-6,-33 C40,-36 100,-36 142,-33 L156,-31 C164,-16 164,16 156,31 L142,33 C100,35.5 40,35.5 -6,33 Z" fill="url(#gFlex)"/>
<path d="M2,-33.5 C40,-36 100,-36 140,-33 C143,-33 146,-30 147,-25 C151,-10 151,10 147,25 C146,30 143,33 140,33 C100,35.5 40,35.5 2,33.5 C-1,33 -2,30 -1,26 C5,10 5,-10 -1,-26 C-2,-30 -1,-33 2,-33.5 Z" fill="url(#mesh)"/>
<path d="M2,-33.5 C40,-36 100,-36 140,-33 C143,-33 146,-30 147,-25 C151,-10 151,10 147,25 C146,30 143,33 140,33 C100,35.5 40,35.5 2,33.5 C-1,33 -2,30 -1,26 C5,10 5,-10 -1,-26 C-2,-30 -1,-33 2,-33.5 Z" fill="none" stroke="#55524f" stroke-width="1" opacity="0.8"/>
<path d="M156,-31 C164,-16 164,16 156,31" fill="none" stroke="#625f5b" stroke-width="1"/>
<path d="M153.5,-31.5 C161.5,-16 161.5,16 153.5,31.5" fill="none" stroke="#e8e5e1" stroke-width="1.2" opacity="0.7"/>
</g>
<path d="M828,287 L840,288 C844,290 848,298 851.8,312 L879.5,403.7 C882,412 884,422 885,429 L856,444 C850,445 846,443 844,441 L823,403 L807,347 L808,328 L818,290 Q822,286 828,287 Z" fill="#b3aea8"/>
<path d="M826,289 L840,288 C844,290 848,298 851.8,312 L879.5,403.7 C882,412 884,422 885,429 L868,438 C868,430 866,420 862,408 L833,312 C830,302 828,294 826,289 Z" fill="#cfccc7"/>
<path d="M826,289 L832.5,288.5 C835,296 838,304 840.5,312 L869,406.3 C872,418 874,427 874.8,434.5 L868,438 C868,430 866,420 862,408 L833,312 C830,302 828,294 826,289 Z" fill="#dedbd7"/>
<path d="M832.5,288.5 C835,296 838,304 840.5,312 L869,406.3 C872,418 874,427 874.8,434.5" fill="none" stroke="#5f5c58" stroke-width="1.3"/>
<path d="M834.5,288.5 C837,296 840,304 842.5,312 L871,406 C874,417 876,426 876.8,433.5" fill="none" stroke="#f3f1ee" stroke-width="1.6" opacity="0.9"/>
<path d="M838,289 C842,292 846,300 849,312 L877,404 C880,413 881.5,422 882.5,429" fill="none" stroke="#b5b1ab" stroke-width="2" opacity="0.8"/>
<path d="M840,288 C844,290 848,298 851.8,312 L879.5,403.7 C882,412 884,422 885,429" fill="none" stroke="#77736e" stroke-width="0.9"/>
<path d="M819,290 Q823,286 827,289 C829,296 831,304 833,312 L862,408 C866,420 868,430 868,438 L856,444 C850,445 846,443 844,441 L823,403 L807,347 L808,328 Z" fill="url(#gFlFace)"/>
<path d="M820.5,292 Q823,289 825.5,291.5 C827.5,298 829.5,305 831.5,313 L860.5,409 C864,420 866,429 866,436.5" fill="none" stroke="#efece8" stroke-width="2.6" opacity="0.95"/>
<path d="M820,293 L810,329 L809,347 L824.5,402 L845,439.5 C847,441.5 851,443 856,442 L866,437" fill="none" stroke="#e3e0db" stroke-width="1.8" opacity="0.8"/>
<path d="M868,438 L856,444 C850,445 846,443 844,441 L823,403 L807,347 L808,328 L819,290 Q823,286 827,289" fill="none" stroke="#6d6965" stroke-width="1"/>
<path d="M844,441 C846,443 850,445 856,444 L885,429 L887,435 L858,450 C852,451 847,449 845,446 Z" fill="#8a8681"/>
<path d="M868,438 L885,429 L881,414 L866,420 Z" fill="#9b9792" opacity="0.9"/>
<path d="M808,355 L816,345 L826,343 L839,352 L847,392 L843,402 L826,404 L822,396 Z" fill="url(#gBoss)"/>
<path d="M822,396 L826,404 L843,402 L847,392 L837,389 L828,390 Z" fill="#66635f" opacity="0.9"/>
<path d="M816,345 L826,343 L839,352" fill="none" stroke="#f0ede9" stroke-width="1.2" opacity="0.8"/>
<path d="M818,357 C822,368 826,382 828,390" fill="none" stroke="#8d8984" stroke-width="0.9" stroke-dasharray="1.5,1.2" opacity="0.8"/>
<g transform="translate(815,310) rotate(15) scale(1.0)">
<ellipse cx="0" cy="0" rx="6.5" ry="5" fill="#8b8884" />
<ellipse cx="-1" cy="-0.8" rx="5.5" ry="4.2" fill="#d9d7d3" />
<rect x="-9" y="-2.6" width="8" height="5.2" rx="1.5" fill="#bdbab6" stroke="#6e6b68" stroke-width="0.6"/>
<path d="M-8,-2.6 v5.2 M-6,-2.6 v5.2 M-4,-2.6 v5.2" stroke="#77736f" stroke-width="0.5"/>
</g>
<g transform="translate(850,414) rotate(15) scale(1.0)">
<ellipse cx="0" cy="0" rx="6.5" ry="5" fill="#8b8884" />
<ellipse cx="-1" cy="-0.8" rx="5.5" ry="4.2" fill="#d9d7d3" />
<rect x="-9" y="-2.6" width="8" height="5.2" rx="1.5" fill="#bdbab6" stroke="#6e6b68" stroke-width="0.6"/>
<path d="M-8,-2.6 v5.2 M-6,-2.6 v5.2 M-4,-2.6 v5.2" stroke="#77736f" stroke-width="0.5"/>
</g>
</g>
<g id="dpfin">
<path d="M588,592 L604,582 L622,580 L628,586 L627,614 L620,620 L604,622 L588,614 Z" fill="url(#gBrk)" stroke="#726e6a" stroke-width="0.8"/>
<path d="M606,592 L622,588 L622,614 L607,618 Z" fill="#a8a49e"/>
<path d="M612,590 L612,617 M617,589 L617,616" stroke="#8e8a85" stroke-width="1"/>
<path d="M588,592 L604,582 L622,580 L628,586 L606,592 Z" fill="#dedbd6" stroke="#8a8681" stroke-width="0.6"/>
<path d="M588,622 L606,618 L622,622 L641,636 L640,641 L626,646 L614,644 L604,634 L588,630 Z" fill="#c9c5bf" stroke="#726e6a" stroke-width="0.8"/>
<path d="M604,634 L614,644 L626,646 L640,641 L640,645 L626,650 L613,648 L603,638 Z" fill="#8f8b86"/>
<ellipse cx="627" cy="632" rx="6.5" ry="5" fill="#8d8985" stroke="#55524f" stroke-width="0.7"/>
<path d="M627,627.5 L628.5,630.5 L632,631 L629.5,633 L630,636 L627,634.5 L624,636 L624.5,633 L622,631 L625.5,630.5 Z" fill="#3f3d3b"/>
<ellipse cx="615.5" cy="523.5" rx="51" ry="21" transform="rotate(47.5 615.5 523.5)" fill="#9a9691" stroke="#5f5c58" stroke-width="0.8"/>
<ellipse cx="614" cy="525" rx="51" ry="21" transform="rotate(47.5 614 525)" fill="#d8d5d0" stroke="#6b6763" stroke-width="0.7"/>
<ellipse cx="611" cy="528" rx="50.5" ry="20.5" transform="rotate(47.5 611 528)" fill="#cfcbc6" stroke="#5f5c58" stroke-width="0.9"/>
<ellipse cx="608" cy="530.5" rx="50" ry="20" transform="rotate(47.5 608 530.5)" fill="url(#gPlate)" stroke="#6b6763" stroke-width="0.9"/>
<path d="M577,497 C583,489 592,487 600,492 C616,502 634,522 646,542" fill="none" stroke="#f0ede9" stroke-width="1.4" opacity="0.9"/>
<path d="M557.5,559 C559,556 561,553 562,551 C564,547 566,543 570.5,530 C572,527 574,524 575.5,521.5 C576,512 578,505 583,498 C590,492 602,498 614,510 C626,522 636,538 638,552 C638,558 636,561 632,561 C628,560 626,558 624,558 C620,560 617,563 615,566 C610,573 605,580 600,587 C590,584 570,572 557.5,559 Z" fill="url(#gNeck)"/>
<path d="M583,498 C590,492 602,498 614,510 C626,522 636,538 638,552" fill="none" stroke="#7a7671" stroke-width="1"/>
<path d="M581,500 C588,494 600,500 612,512 C624,524 634,540 636,554" fill="none" stroke="#ece9e5" stroke-width="1.3" opacity="0.8"/>
<path d="M615,566 C620,558 630,556 638,552 C636,540 630,530 624,522 C622,540 616,556 606,572 Z" fill="#7e7a75" opacity="0.45" filter="url(#b2)"/>
<path d="M563,552 C575,566 592,578 606,582" fill="none" stroke="#8a8681" stroke-width="1.6" opacity="0.7" filter="url(#b1)"/>
<path d="M557.5,559 C559,556 561,553 562,551 C564,547 566,543 570.5,530 C572,527 574,524 575.5,521.5 C576,512 578,505 583,498" fill="none" stroke="#76726d" stroke-width="0.9"/>
<path d="M600,587 C605,580 610,573 615,566 C617,563 620,560 624,558" fill="none" stroke="#5c5955" stroke-width="1"/>
<g transform="translate(570,506) rotate(0)">
<path d="M-8,-3 L-3,-7 L5,-6 L8,-1 L6,5 L-2,7 L-7,4 Z" fill="#45433f"/>
<path d="M-6,-3 L-2,-5.5 L4,-4.5 L6,-0.5 L4,4 L-2,5 L-5,3 Z" fill="#807d78"/>
<path d="M-6,-3 L-2,-5.5 L4,-4.5 L2,-1 L-4,0 Z" fill="#b9b6b1"/>
<circle cx="-3" cy="1.5" r="2.6" fill="#6a6ea0" opacity="0.0"/>
</g>
<g transform="translate(632,567) rotate(0)">
<path d="M-8,-3 L-3,-7 L5,-6 L8,-1 L6,5 L-2,7 L-7,4 Z" fill="#45433f"/>
<path d="M-6,-3 L-2,-5.5 L4,-4.5 L6,-0.5 L4,4 L-2,5 L-5,3 Z" fill="#807d78"/>
<path d="M-6,-3 L-2,-5.5 L4,-4.5 L2,-1 L-4,0 Z" fill="#b9b6b1"/>
<circle cx="-3" cy="1.5" r="2.6" fill="#6a6ea0" opacity="0.0"/>
</g>
<ellipse cx="566" cy="508" rx="3" ry="4" fill="#6f7a86"/>
<ellipse cx="628" cy="569" rx="3" ry="4" fill="#6f7a86"/>
</g>
<g id="tailpipe">
<path d="M150,807 L312,730 L340,780 L190,849 Z" fill="url(#gTail)"/>
<path d="M120,800 L270,728 L320,800 L180,870 Z" fill="url(#gTailFade)"/>
</g>
<g id="dpf">
<clipPath id="cpDpf"><path d="M311,672 C313,666 318,661 324,657 C328,654 332,651.5 336,649.5 C375,626 438,586 506,560 C525,553 545,551 558,558 L598,587 C596,600 593,615 592,628 C591,645 589,660 586,668 C584,674 580,680 575,684 L420,770.5 L396,783.5 Q388,788.5 380,788.5 L361,788.5 C352,787.5 344,786 337.7,783.8 L308,727 L310,676 Q310,674 311,672 Z"/></clipPath>
<path d="M311,672 C313,666 318,661 324,657 C328,654 332,651.5 336,649.5 C375,626 438,586 506,560 C525,553 545,551 558,558 L598,587 C596,600 593,615 592,628 C591,645 589,660 586,668 C584,674 580,680 575,684 L420,770.5 L396,783.5 Q388,788.5 380,788.5 L361,788.5 C352,787.5 344,786 337.7,783.8 L308,727 L310,676 Q310,674 311,672 Z" fill="url(#gDpf)"/>
<g clip-path="url(#cpDpf)">
<path d="M560,600 C575,615 585,640 582,670 L560,700 L530,715 C545,690 550,650 540,615 Z" fill="#5f5c59" opacity="0.45" filter="url(#b6)"/>
<path d="M505,690 L560,660 L575,690 L520,722 Z" fill="#605d5a" opacity="0.35" filter="url(#b6)"/>
<path d="M520,560 C540,556 560,566 572,590 L590,640 L600,600 L570,545 Z" fill="#d8d4cf" opacity="0.7" filter="url(#b3)"/>
<path d="M400,650 L470,612 L490,640 L415,680 Z" fill="#dad6d1" opacity="0.45" filter="url(#b6)"/>
<path d="M340,650 L420,605 L430,618 L350,664 Z" fill="#a6a19b" opacity="0.4" filter="url(#b3)"/>
<path d="M420,705 L480,672 L490,700 L430,735 Z" fill="#b9b5af" opacity="0.35" filter="url(#b6)"/>
</g>
<path d="M311,672 C313,666 318,661 324,657 C326,655.5 328,654 330,653 C338,658 345,664 351.5,671.5 C358,676 364,681 369,686 C374,690 379,694 383,698.5 C387,705 390,713 391.7,722 C394,731 395.5,740 396,749.4 C396.5,758 395.5,766 393.5,773.5 C392,778 390,782 388,785.5 Q384,788.5 380,788.5 L361,788.5 C352,787.5 344,786 337.7,783.8 L308,727 L310,676 Q310,674 311,672 Z" fill="url(#gCone)"/>
<g transform="translate(-4,5)">
<path d="M334,664 L353,675 L367,700 L360,730 L344,742 L328,728 Z" fill="#c9c4be" opacity="0.7" filter="url(#b1)"/>
<path d="M334,664 L353,675 L342,700 L328,728 Z" fill="#d6d2cc" opacity="0.55" filter="url(#b1)"/>
<path d="M316,662 L334,664 L328,728 L309,722 Z" fill="#bcb7b1" opacity="0.7" filter="url(#b1)"/>
<path d="M344,742 L360,730 L367,700 L396,725 L404,760 L394,786 L372,786 L346,772 Z" fill="#77736f" opacity="0.45" filter="url(#b2)"/>
<path d="M353,675 C370,680 386,700 396,725" fill="none" stroke="#d5d1cb" stroke-width="5" opacity="0.45" filter="url(#b2)"/>
</g>
<path d="M328,654 C337,659 345,665 352.5,671 C359,676 365,681 370,686 C375,690 380,694.5 384,699 C388,705.5 391,713.5 392.7,722 C395,731 396.5,740 397,749.4 C397.5,758 396.5,766 394.5,773.5 C393,778 391,782 389,785" fill="none" stroke="#77736f" stroke-width="6.4"/>
<path d="M328,654 C337,659 345,665 352.5,671 C359,676 365,681 370,686 C375,690 380,694.5 384,699 C388,705.5 391,713.5 392.7,722 C395,731 396.5,740 397,749.4 C397.5,758 396.5,766 394.5,773.5 C393,778 391,782 389,785" fill="none" stroke="#d3cfcc" stroke-width="4.6"/>
<path d="M328,654 C337,659 345,665 352.5,671 C359,676 365,681 370,686 C375,690 380,694.5 384,699 C388,705.5 391,713.5 392.7,722 C395,731 396.5,740 397,749.4 C397.5,758 396.5,766 394.5,773.5 C393,778 391,782 389,785" fill="none" stroke="#e6e3e0" stroke-width="1.4" transform="translate(0.8,-0.6)"/>
<path d="M385,697 L570,594" stroke="#7d7974" stroke-width="1.3" fill="none"/>
<path d="M386,699 L571,596" stroke="#e4e1dc" stroke-width="1.6" fill="none" opacity="0.85"/>
<path d="M343,647 C359,653 377,666 389,680" fill="none" stroke="#e6e3e0" stroke-width="4.4" stroke-linecap="round" opacity="0.9"/>
<path d="M343,647 C359,653 377,666 389,680" fill="none" stroke="#8b8784" stroke-width="2.4" stroke-linecap="round"/>
<path d="M336,652 C353,658 370,670 381,684" fill="none" stroke="#e6e3e0" stroke-width="4.4" stroke-linecap="round" opacity="0.9"/>
<path d="M336,652 C353,658 370,670 381,684" fill="none" stroke="#8b8784" stroke-width="2.4" stroke-linecap="round"/>
<path d="M413,602 C432,606 454,618 467,635" fill="none" stroke="#66635f" stroke-width="4.1" stroke-linecap="round" opacity="0.9"/>
<path d="M413,602 C432,606 454,618 467,635" fill="none" stroke="#d9d6d2" stroke-width="2.5" stroke-linecap="round"/>
<path d="M413,602 C432,606 454,618 467,635" fill="none" stroke="#f6f4f2" stroke-width="1.1" stroke-linecap="round" transform="translate(0.5,-0.3)"/>
<path d="M467,572 C486,574 508,588 521,605" fill="none" stroke="#66635f" stroke-width="4.1" stroke-linecap="round" opacity="0.9"/>
<path d="M467,572 C486,574 508,588 521,605" fill="none" stroke="#d9d6d2" stroke-width="2.5" stroke-linecap="round"/>
<path d="M467,572 C486,574 508,588 521,605" fill="none" stroke="#f6f4f2" stroke-width="1.1" stroke-linecap="round" transform="translate(0.5,-0.3)"/>
<path d="M396,706 C403,722 408,748 408.3,771" fill="none" stroke="#e6e3e0" stroke-width="4.4" stroke-linecap="round" opacity="0.9"/>
<path d="M396,706 C403,722 408,748 408.3,771" fill="none" stroke="#8b8784" stroke-width="2.4" stroke-linecap="round"/>
<path d="M404,701 C411,718 415.5,742 415.4,764.5" fill="none" stroke="#e6e3e0" stroke-width="4.4" stroke-linecap="round" opacity="0.9"/>
<path d="M404,701 C411,718 415.5,742 415.4,764.5" fill="none" stroke="#8b8784" stroke-width="2.4" stroke-linecap="round"/>
<path d="M481,657 C491,673 498,698 499,720" fill="none" stroke="#66635f" stroke-width="4.1" stroke-linecap="round" opacity="0.9"/>
<path d="M481,657 C491,673 498,698 499,720" fill="none" stroke="#d9d6d2" stroke-width="2.5" stroke-linecap="round"/>
<path d="M481,657 C491,673 498,698 499,720" fill="none" stroke="#f6f4f2" stroke-width="1.1" stroke-linecap="round" transform="translate(0.5,-0.3)"/>
<path d="M536,628 C546,645 553,668 555,691" fill="none" stroke="#66635f" stroke-width="4.1" stroke-linecap="round" opacity="0.9"/>
<path d="M536,628 C546,645 553,668 555,691" fill="none" stroke="#d9d6d2" stroke-width="2.5" stroke-linecap="round"/>
<path d="M536,628 C546,645 553,668 555,691" fill="none" stroke="#f6f4f2" stroke-width="1.1" stroke-linecap="round" transform="translate(0.5,-0.3)"/>
<path d="M552,558 C568,572 582,606 584,636 C584,656 580,672 572,684" fill="none" stroke="#7d7974" stroke-width="1.4" opacity="0.85"/>
<path d="M550,560 C566,574 580,608 582,637 C582,656 578,672 570,685" fill="none" stroke="#e2dfda" stroke-width="1.4" opacity="0.8"/>
<path d="M338,652 C380,627 440,591 506,564" fill="none" stroke="#9a958f" stroke-width="2.5" opacity="0.6" filter="url(#b1)"/>
<path d="M311,672 C313,666 318,661 324,657 C328,654 332,651.5 336,649.5 C375,626 438,586 506,560 C525,553 545,551 558,558 L598,587 C596,600 593,615 592,628 C591,645 589,660 586,668 C584,674 580,680 575,684 L420,770.5 L396,783.5 Q388,788.5 380,788.5 L361,788.5 C352,787.5 344,786 337.7,783.8 L308,727 L310,676 Q310,674 311,672 Z" fill="none" stroke="#76726d" stroke-width="0.9" opacity="0.8"/>
</g>
<path d="M310,725.4 C316,727 321,729 325.4,731.5 C331,735 335,740 337.7,745.4 C341,751 343,757 343.8,762.3 C344.5,768 344,774 342.3,779.2 C341,781.5 339.5,783 337.7,783.8 L330,782.3 C331,779 331.5,776 331.5,773 C331.5,767 330.5,761 328.5,756 C326,750 323,745 319.2,740.8 C315,736 310,733 303.8,730 Z" fill="url(#gRing)"/>
<path d="M303.8,730 C310,733 315,736 319.2,740.8 C323,745 326,750 328.5,756 C330.5,761 331.5,767 331.5,773 C331.5,776 331,779 330,782.3" fill="none" stroke="#6a6763" stroke-width="1"/>
<path d="M310,725.4 C316,727 321,729 325.4,731.5 C331,735 335,740 337.7,745.4 C341,751 343,757 343.8,762.3 C344.5,768 344,774 342.3,779.2" fill="none" stroke="#726e6a" stroke-width="1"/>
<g id="pipes">
<path d="M582,479 L568,490 C560,496 556,500 554,504 C552,509 552,513 554,516 L561,522" fill="none" stroke="#4d5155" stroke-width="6.6" stroke-linecap="round" stroke-linejoin="round" />
<path d="M582,479 L568,490 C560,496 556,500 554,504 C552,509 552,513 554,516 L561,522" fill="none" stroke="#71757a" stroke-width="4.8" stroke-linecap="round" stroke-linejoin="round" />
<path d="M582,479 L568,490 C560,496 556,500 554,504 C552,509 552,513 554,516 L561,522" fill="none" stroke="#979b9f" stroke-width="2.0" stroke-linecap="round" stroke-linejoin="round" transform="translate(-0.7,-0.9)" />
<path d="M640,250 L639.5,263 C637,276 633,288 631.5,298 C629.5,310 629,320 630,330 C632,340 637,347 644,351.5 C649,354.5 655,355.5 660,354.5 C664,353.5 670,352 675,353 C682,354.5 688,360 692.5,366 C697,372 699,379 698,386 C697,393 694,398.5 689.5,403 L586,476" fill="none" stroke="#4d5155" stroke-width="11.8" stroke-linecap="round" stroke-linejoin="round" />
<path d="M640,250 L639.5,263 C637,276 633,288 631.5,298 C629.5,310 629,320 630,330 C632,340 637,347 644,351.5 C649,354.5 655,355.5 660,354.5 C664,353.5 670,352 675,353 C682,354.5 688,360 692.5,366 C697,372 699,379 698,386 C697,393 694,398.5 689.5,403 L586,476" fill="none" stroke="#71757a" stroke-width="10.0" stroke-linecap="round" stroke-linejoin="round" />
<path d="M640,250 L639.5,263 C637,276 633,288 631.5,298 C629.5,310 629,320 630,330 C632,340 637,347 644,351.5 C649,354.5 655,355.5 660,354.5 C664,353.5 670,352 675,353 C682,354.5 688,360 692.5,366 C697,372 699,379 698,386 C697,393 694,398.5 689.5,403 L586,476" fill="none" stroke="#979b9f" stroke-width="7.200000000000001" stroke-linecap="round" stroke-linejoin="round" transform="translate(-0.7,-0.9)" />
<path d="M640,250 L639.5,263 C637,276 633,288 631.5,298 C629.5,310 629,320 630,330 C632,340 637,347 644,351.5 C649,354.5 655,355.5 660,354.5 C664,353.5 670,352 675,353 C682,354.5 688,360 692.5,366 C697,372 699,379 698,386 C697,393 694,398.5 689.5,403 L586,476" fill="none" stroke="#c3c6c9" stroke-width="3.200000000000001" stroke-linecap="round" stroke-linejoin="round" transform="translate(-1.3,-1.6)" opacity="0.95" />
<path d="M656,258 L656,325 C657,346 656,353 650,360 C644,367 636,374 629.8,379.7 C624,385 620,390 616.6,396 C611,404 605,414 600,422.8 C596,429 592,435 587,441 C580,450 572,459 564,466 C558,471 552,476 547,480 C534,488 520,495 507,502.5 L400,574 L352,603 L320,624 L297,637 C285,642 272,648 267,655 C262,662 262,668 266,672 C272,678 278,682 283,686 C292,692 296,698 294,703 C292,709 286,712 276,713 L246,711 C238,711 232,714 227,718 L219,724 L199,734.5 C193,738 190,742 190,748 L191.5,762" fill="none" stroke="#4d5155" stroke-width="11.8" stroke-linecap="round" stroke-linejoin="round" />
<path d="M656,258 L656,325 C657,346 656,353 650,360 C644,367 636,374 629.8,379.7 C624,385 620,390 616.6,396 C611,404 605,414 600,422.8 C596,429 592,435 587,441 C580,450 572,459 564,466 C558,471 552,476 547,480 C534,488 520,495 507,502.5 L400,574 L352,603 L320,624 L297,637 C285,642 272,648 267,655 C262,662 262,668 266,672 C272,678 278,682 283,686 C292,692 296,698 294,703 C292,709 286,712 276,713 L246,711 C238,711 232,714 227,718 L219,724 L199,734.5 C193,738 190,742 190,748 L191.5,762" fill="none" stroke="#71757a" stroke-width="10.0" stroke-linecap="round" stroke-linejoin="round" />
<path d="M656,258 L656,325 C657,346 656,353 650,360 C644,367 636,374 629.8,379.7 C624,385 620,390 616.6,396 C611,404 605,414 600,422.8 C596,429 592,435 587,441 C580,450 572,459 564,466 C558,471 552,476 547,480 C534,488 520,495 507,502.5 L400,574 L352,603 L320,624 L297,637 C285,642 272,648 267,655 C262,662 262,668 266,672 C272,678 278,682 283,686 C292,692 296,698 294,703 C292,709 286,712 276,713 L246,711 C238,711 232,714 227,718 L219,724 L199,734.5 C193,738 190,742 190,748 L191.5,762" fill="none" stroke="#979b9f" stroke-width="7.200000000000001" stroke-linecap="round" stroke-linejoin="round" transform="translate(-0.7,-0.9)" />
<path d="M656,258 L656,325 C657,346 656,353 650,360 C644,367 636,374 629.8,379.7 C624,385 620,390 616.6,396 C611,404 605,414 600,422.8 C596,429 592,435 587,441 C580,450 572,459 564,466 C558,471 552,476 547,480 C534,488 520,495 507,502.5 L400,574 L352,603 L320,624 L297,637 C285,642 272,648 267,655 C262,662 262,668 266,672 C272,678 278,682 283,686 C292,692 296,698 294,703 C292,709 286,712 276,713 L246,711 C238,711 232,714 227,718 L219,724 L199,734.5 C193,738 190,742 190,748 L191.5,762" fill="none" stroke="#c3c6c9" stroke-width="3.200000000000001" stroke-linecap="round" stroke-linejoin="round" transform="translate(-1.3,-1.6)" opacity="0.95" />
<g transform="translate(219.3,724.4) rotate(-33)"><rect x="-7.5" y="-6.5" width="15" height="13" rx="2" fill="#b9bcbf" stroke="#5b5f64" stroke-width="0.9"/><rect x="-6.5" y="-5.3" width="13" height="2.4" fill="#e5e6e8" opacity="0.9"/><path d="M-4.5,-6.5 v13 M4.5,-6.5 v13" stroke="#6e7277" stroke-width="0.7"/></g>
<g transform="translate(197,773) rotate(68)"><rect x="-8.5" y="-7.5" width="17" height="15" rx="2" fill="#b9bcbf" stroke="#5b5f64" stroke-width="0.9"/><rect x="-7.5" y="-6.3" width="15" height="2.4" fill="#e5e6e8" opacity="0.9"/><path d="M-5.5,-7.5 v15 M5.5,-7.5 v15" stroke="#6e7277" stroke-width="0.7"/></g>
<g transform="translate(583,479) rotate(-32)"><rect x="-7.5" y="-6.5" width="15" height="13" rx="2" fill="#b9bcbf" stroke="#5b5f64" stroke-width="0.9"/><rect x="-6.5" y="-5.3" width="13" height="2.4" fill="#e5e6e8" opacity="0.9"/><path d="M-4.5,-6.5 v13 M4.5,-6.5 v13" stroke="#6e7277" stroke-width="0.7"/></g>
<g transform="translate(563,523) rotate(40)"><rect x="-4.5" y="-4.5" width="9" height="9" rx="2" fill="#b9bcbf" stroke="#5b5f64" stroke-width="0.9"/><rect x="-3.5" y="-3.3" width="7" height="2.4" fill="#e5e6e8" opacity="0.9"/><path d="M-1.5,-4.5 v9 M1.5,-4.5 v9" stroke="#6e7277" stroke-width="0.7"/></g>
<g transform="translate(430,554) rotate(-33)"><path d="M-8,-7 L6,-7 L8,5 L-3,7 L-10,3 Z" fill="#c5c8cb" stroke="#5b5f64" stroke-width="0.8"/><path d="M-6,-5 L5,-5" stroke="#eeeff0" stroke-width="1.5"/><path d="M-2,-7 L0,6" stroke="#71757a" stroke-width="0.8"/></g>
<g transform="translate(298,635) rotate(-29)"><path d="M-8,-7 L6,-7 L8,5 L-3,7 L-10,3 Z" fill="#c5c8cb" stroke="#5b5f64" stroke-width="0.8"/><path d="M-6,-5 L5,-5" stroke="#eeeff0" stroke-width="1.5"/><path d="M-2,-7 L0,6" stroke="#71757a" stroke-width="0.8"/></g>
<g transform="translate(639.5,263.5) rotate(10)"><rect x="-7.75" y="-3.5" width="15.5" height="7" rx="1.5" fill="#8a8e92" stroke="#43474b" stroke-width="0.9"/><rect x="-6.25" y="-2.5" width="6.9750000000000005" height="4.6" fill="#d5d8da" opacity="0.9"/><path d="M-7.75,1.9 h15.5" stroke="#3f4347" stroke-width="0.8"/></g>
<g transform="translate(656,274) rotate(6)"><rect x="-8.0" y="-3.25" width="16" height="6.5" rx="1.5" fill="#8a8e92" stroke="#43474b" stroke-width="0.9"/><rect x="-6.5" y="-2.25" width="7.2" height="4.1" fill="#d5d8da" opacity="0.9"/><path d="M-8.0,1.65 h16" stroke="#3f4347" stroke-width="0.8"/></g>
<path d="M627.7,224.9 L634,221.3 L638.4,222.7 L666.8,242.6 L673.9,259.7 L673,271 L666.8,273 L662.5,269.6 L662.5,262 L654.7,259.7 L646.9,256.8 L634.8,241.2 L629.8,235.5 Z" fill="#8d9196" stroke="#555a5f" stroke-width="0.8"/>
<path d="M627.7,224.9 L634,221.3 L638.4,222.7 L666.8,242.6 L663.2,245.5 L654.7,246.9 L634,228.4 Z" fill="#c9ccd0"/>
<path d="M627.7,224.9 L634,228.4 L634.8,241.2 L629.8,235.5 Z" fill="#b2b6ba"/>
<path d="M634,228.4 L654.7,246.9 L654.7,259.7 L646.9,256.8 L634.8,241.2 Z" fill="#989ca1"/>
<path d="M654.7,246.9 L663.2,245.5 L666.8,242.6 L673.9,259.7 L673,271 L666.8,273 L662.5,269.6 L662.5,251 Z" fill="#b4b8bc" stroke="#5f6469" stroke-width="0.6"/>
<path d="M663.5,252 L668,250 L672,260 L671.5,268 L667.5,270 L664,267 Z" fill="#7b8086"/>
<path d="M627.7,224.9 L634,228.4 L654.7,246.9" fill="none" stroke="#eceef0" stroke-width="1.1"/>
</g>
<g id="ecu">
<ellipse cx="288" cy="530" rx="4.2" ry="2.8" fill="#a6a9af" stroke="#686c73" stroke-width="0.6"/>
<ellipse cx="300" cy="537" rx="4.2" ry="2.8" fill="#a6a9af" stroke="#686c73" stroke-width="0.6"/>
<ellipse cx="324" cy="553" rx="4.2" ry="2.8" fill="#a6a9af" stroke="#686c73" stroke-width="0.6"/>
<path d="M262,500 C261,497 263,494 267,492 L358,458.5 C362,457.5 365,457.5 368,459.5 L428,499 C431,501 431,505 428,507 L334,556 C330,558 326,558 322,555 L264,508 C262,506 262,503 262,500 Z" fill="#878b92" stroke="#5d6168" stroke-width="0.9"/>
<path d="M262,497 C261,494 263,492 267,490 L358,456.5 C362,455.5 365,455.5 368,457.5 L428,496 C431,498 431,502 428,504 L334,552 C330,554 326,554 322,551 L264,505 C262,503 262,500 262,497 Z" fill="#c5c8cd" stroke="#70747b" stroke-width="0.7"/>
<path d="M268,496 L358,461 L422,500 L330,546 Z" fill="none" stroke="#a9acb2" stroke-width="0.8"/>
<path d="M289.8,486 L289.8,492 L344.6,538.8 L344.6,532.7 Z" fill="#d3d5d9" stroke="#8d9097" stroke-width="0.5"/>
<path d="M344.6,532.7 L344.6,538.8 L416.7,503.3 L416.7,497.2 Z" fill="#7d8188" stroke="#63676e" stroke-width="0.5"/>
<path d="M289.8,486 L358,458.6 C360.5,457.6 363.5,457.6 366,459.2 L416.7,497.2 L344.6,532.7 Z" fill="url(#gEcuTop)" stroke="#7b7f86" stroke-width="0.7"/>
<path d="M289.8,486 L298,482.6 L352,528.8 L344.6,532.7 Z" fill="#c6c9cd"/>
<path d="M298,482.6 L352,528.8" stroke="#8d9097" stroke-width="0.6"/>
<path d="M308,487 L360,466.5 L404,495 L353,520 L338,507 C337,501 331,498 324,500 Z" fill="none" stroke="#8b8f96" stroke-width="0.9"/>
<path d="M309,488.2 L360,467.8 L403,495.8" fill="none" stroke="#c4c7cc" stroke-width="0.8"/>
<ellipse cx="334.5" cy="505.5" rx="5" ry="3.6" fill="#b7babf" stroke="#7d8188" stroke-width="0.8"/>
<path d="M379,469 L385,466 L427,493.5 L421,497 Z" fill="#b9bcc1" stroke="#747880" stroke-width="0.6"/>
<path d="M379,469 L421,497 L421,500.5 L379,472.5 Z" fill="#8a8e95"/>
<ellipse cx="272" cy="499" rx="3.4" ry="2.2" fill="#e9eaec" stroke="#7d8188" stroke-width="0.7"/>
<ellipse cx="277" cy="494" rx="4.5" ry="2.8" fill="none" stroke="#9da0a6" stroke-width="0.8"/>
<ellipse cx="421" cy="502" rx="2.8" ry="1.8" fill="#8b8f96"/>
<ellipse cx="340" cy="543" rx="2.8" ry="1.9" fill="#8b8f96"/>
</g>
<g id="wires">
<use href="#wB" class="wo"/>
<use href="#wB" class="wi"/>
<use href="#wA" class="wo"/>
<use href="#wA" class="wi"/>
<use href="#wC" class="wo"/>
<use href="#wC" class="wi"/>
<use href="#wD" class="wo"/>
<use href="#wD" class="wi"/>
<use href="#wE" class="wo"/>
<use href="#wE" class="wi"/>
<use href="#wF" class="wo"/>
<use href="#wF" class="wi"/>
</g>
<g id="sensors">
<rect x="286.3" y="509" width="3.4" height="9" rx="1.5" fill="#c8cbcf" stroke="#5f636a" stroke-width="0.6"/>
<rect x="287.1" y="510" width="1" height="7" fill="#eff0f2"/>
<ellipse cx="288" cy="518" rx="3.2" ry="1.7" fill="#9a9ea5" stroke="#5f636a" stroke-width="0.5"/>
<rect x="298.3" y="516" width="3.4" height="9" rx="1.5" fill="#c8cbcf" stroke="#5f636a" stroke-width="0.6"/>
<rect x="299.1" y="517" width="1" height="7" fill="#eff0f2"/>
<ellipse cx="300" cy="525" rx="3.2" ry="1.7" fill="#9a9ea5" stroke="#5f636a" stroke-width="0.5"/>
<rect x="323.8" y="533" width="3.4" height="9" rx="1.5" fill="#c8cbcf" stroke="#5f636a" stroke-width="0.6"/>
<rect x="324.6" y="534" width="1" height="7" fill="#eff0f2"/>
<ellipse cx="325.5" cy="542" rx="3.2" ry="1.7" fill="#9a9ea5" stroke="#5f636a" stroke-width="0.5"/>
<rect x="390.8" y="461" width="3.4" height="9" rx="1.5" fill="#c8cbcf" stroke="#5f636a" stroke-width="0.6"/>
<rect x="391.6" y="462" width="1" height="7" fill="#eff0f2"/>
<ellipse cx="392.5" cy="470" rx="3.2" ry="1.7" fill="#9a9ea5" stroke="#5f636a" stroke-width="0.5"/>
<rect x="401.0" y="467" width="3.4" height="9" rx="1.5" fill="#c8cbcf" stroke="#5f636a" stroke-width="0.6"/>
<rect x="401.8" y="468" width="1" height="7" fill="#eff0f2"/>
<ellipse cx="402.7" cy="476" rx="3.2" ry="1.7" fill="#9a9ea5" stroke="#5f636a" stroke-width="0.5"/>
<rect x="421.3" y="480.5" width="3.4" height="9" rx="1.5" fill="#c8cbcf" stroke="#5f636a" stroke-width="0.6"/>
<rect x="422.1" y="481.5" width="1" height="7" fill="#eff0f2"/>
<ellipse cx="423" cy="489.5" rx="3.2" ry="1.7" fill="#9a9ea5" stroke="#5f636a" stroke-width="0.5"/>
<ellipse cx="1017" cy="154" rx="12" ry="11" fill="#f2f2f0" stroke="#a5a4a0" stroke-width="1" opacity="0.9"/>
<ellipse cx="1020" cy="150" rx="7" ry="5" fill="#ffffff" opacity="0.9"/>
<g transform="translate(283,743) rotate(-126.7) scale(1.0)">
<rect x="-33" y="-1.3" width="27" height="2.6" fill="url(#gProbe)"/>
<rect x="-20.85" y="-2.1" width="6.75" height="4.2" rx="1" fill="url(#gProbe)" stroke="#6e5214" stroke-width="0.4"/>
<rect x="-12" y="-3.6" width="6" height="7.2" rx="1" fill="#f1efe9" stroke="#8b887f" stroke-width="0.5"/>
<rect x="-7" y="-6.8" width="13" height="13.6" rx="1.2" fill="url(#gBrass)" stroke="#4e380c" stroke-width="0.6"/>
<path d="M-3,-6.8 v13.6 M2,-6.8 v13.6" stroke="#5e4410" stroke-width="0.7" opacity="0.8"/>
<rect x="4" y="-5.2" width="4" height="10.4" rx="1" fill="url(#gBrass)" stroke="#4e380c" stroke-width="0.5"/>
<rect x="8" y="-2.9" width="13" height="5.8" rx="1.5" fill="url(#gSleeve)" stroke="#5f6266" stroke-width="0.5"/>
</g>
<g transform="translate(599.6,514.8) rotate(-92) scale(1.0)">
<rect x="-36" y="-1.3" width="30" height="2.6" fill="url(#gProbe)"/>
<rect x="-22.5" y="-2.1" width="7.5" height="4.2" rx="1" fill="url(#gProbe)" stroke="#6e5214" stroke-width="0.4"/>
<rect x="-12" y="-3.6" width="6" height="7.2" rx="1" fill="#f1efe9" stroke="#8b887f" stroke-width="0.5"/>
<rect x="-7" y="-6.8" width="13" height="13.6" rx="1.2" fill="url(#gBrass)" stroke="#4e380c" stroke-width="0.6"/>
<path d="M-3,-6.8 v13.6 M2,-6.8 v13.6" stroke="#5e4410" stroke-width="0.7" opacity="0.8"/>
<rect x="4" y="-5.2" width="4" height="10.4" rx="1" fill="url(#gBrass)" stroke="#4e380c" stroke-width="0.5"/>
<rect x="8" y="-2.9" width="16" height="5.8" rx="1.5" fill="url(#gSleeve)" stroke="#5f6266" stroke-width="0.5"/>
</g>
<g transform="translate(784.5,356.5) rotate(-115.5) scale(1.0)">
<rect x="-40" y="-1.3" width="34" height="2.6" fill="url(#gProbe)"/>
<rect x="-24.700000000000003" y="-2.1" width="8.5" height="4.2" rx="1" fill="url(#gProbe)" stroke="#6e5214" stroke-width="0.4"/>
<rect x="-12" y="-3.6" width="6" height="7.2" rx="1" fill="#f1efe9" stroke="#8b887f" stroke-width="0.5"/>
<rect x="-7" y="-6.8" width="13" height="13.6" rx="1.2" fill="url(#gBrass)" stroke="#4e380c" stroke-width="0.6"/>
<path d="M-3,-6.8 v13.6 M2,-6.8 v13.6" stroke="#5e4410" stroke-width="0.7" opacity="0.8"/>
<rect x="4" y="-5.2" width="4" height="10.4" rx="1" fill="url(#gBrass)" stroke="#4e380c" stroke-width="0.5"/>
<rect x="8" y="-2.9" width="14" height="5.8" rx="1.5" fill="url(#gSleeve)" stroke="#5f6266" stroke-width="0.5"/>
</g>
<g transform="translate(1008,155) rotate(8.3) scale(1.0)">
<rect x="-36" y="-1.3" width="30" height="2.6" fill="url(#gProbe)"/>
<rect x="-22.5" y="-2.1" width="7.5" height="4.2" rx="1" fill="url(#gProbe)" stroke="#6e5214" stroke-width="0.4"/>
<rect x="-12" y="-3.6" width="6" height="7.2" rx="1" fill="#f1efe9" stroke="#8b887f" stroke-width="0.5"/>
<rect x="-7" y="-6.8" width="13" height="13.6" rx="1.2" fill="url(#gBrass)" stroke="#4e380c" stroke-width="0.6"/>
<path d="M-3,-6.8 v13.6 M2,-6.8 v13.6" stroke="#5e4410" stroke-width="0.7" opacity="0.8"/>
<rect x="4" y="-5.2" width="4" height="10.4" rx="1" fill="url(#gBrass)" stroke="#4e380c" stroke-width="0.5"/>
<rect x="8" y="-2.9" width="16" height="5.8" rx="1.5" fill="url(#gSleeve)" stroke="#5f6266" stroke-width="0.5"/>
</g>
<g transform="translate(1034,187) rotate(-15.3) scale(1.0)">
<rect x="-40" y="-1.3" width="34" height="2.6" fill="url(#gProbe)"/>
<rect x="-24.700000000000003" y="-2.1" width="8.5" height="4.2" rx="1" fill="url(#gProbe)" stroke="#6e5214" stroke-width="0.4"/>
<rect x="-12" y="-3.6" width="6" height="7.2" rx="1" fill="#f1efe9" stroke="#8b887f" stroke-width="0.5"/>
<rect x="-7" y="-6.8" width="13" height="13.6" rx="1.2" fill="url(#gBrass)" stroke="#4e380c" stroke-width="0.6"/>
<path d="M-3,-6.8 v13.6 M2,-6.8 v13.6" stroke="#5e4410" stroke-width="0.7" opacity="0.8"/>
<rect x="4" y="-5.2" width="4" height="10.4" rx="1" fill="url(#gBrass)" stroke="#4e380c" stroke-width="0.5"/>
<rect x="8" y="-2.9" width="16" height="5.8" rx="1.5" fill="url(#gSleeve)" stroke="#5f6266" stroke-width="0.5"/>
</g>
</g>
<g id="labels">
<line class="ld" x1="1057" y1="38" x2="1014" y2="148"/>
<line class="ld" x1="735" y1="88" x2="1030" y2="186"/>
<line class="ld" x1="646.3" y1="182" x2="777.5" y2="352.5"/>
<line class="ld" x1="527" y1="214.5" x2="628" y2="228.5"/>
<line class="ld" x1="294" y1="410" x2="347" y2="484"/>
<line class="ld" x1="929" y1="306" x2="910" y2="452"/>
<line class="ld" x1="605" y1="511" x2="691" y2="567.5"/>
<line class="ld" x1="510" y1="665.5" x2="570" y2="728"/>
<line class="ld" x1="287.5" y1="747" x2="381" y2="804.5"/>
<text class="lbl" x="981" y="33.1">Oxygen sensor</text>
<text class="lbl" x="617" y="54.2">Catalyst inlet</text>
<text class="lbl" x="617" y="78.1">temperature sensor</text>
<text class="lbl" x="617" y="171.1">Oxygen sensor</text>
<text class="lbl" x="275" y="220.1">Differential pressure sensor</text>
<text class="lbl" x="177" y="401.9">Electronic Control Unit</text>
<text class="lbl" x="884" y="475.1">NOx trap</text>
<text class="lbl" x="675.2" y="589.1">Temperature sensor</text>
<text class="lbl" x="532" y="751.1">Diesel particulate filter</text>
<text class="lbl" x="389.2" y="819.8">Temperature sensor</text>
</g>
</svg>
</body></html>
